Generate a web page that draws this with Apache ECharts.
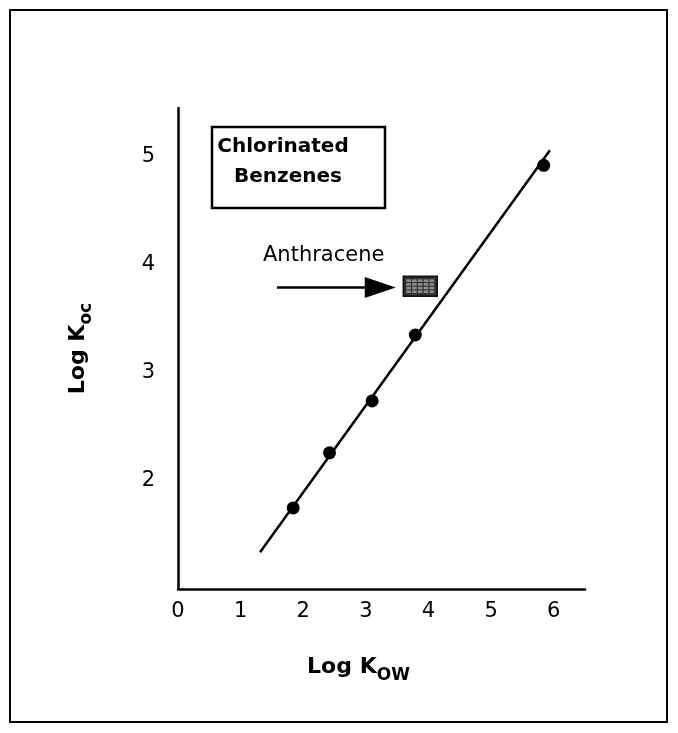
<!DOCTYPE html>
<html>
<head>
<meta charset="utf-8">
<script src="https://cdn.jsdelivr.net/npm/echarts@6/dist/echarts.min.js"></script>
<style>
html,body{margin:0;padding:0;background:#fff;}
#chart{width:678px;height:733px;}
</style>
</head>
<body>
<div id="chart"></div>
<script>
// Data
const xTicks = [0, 1, 2, 3, 4, 5, 6];
const yTicks = [2, 3, 4, 5];
const chlorinatedBenzenes = [[1.84, 1.75], [2.42, 2.26], [3.10, 2.74], [3.79, 3.35], [5.84, 4.92]];
const regressionLine = [[1.31, 1.34], [5.94, 5.06]];
const anthracene = [[3.87, 3.80]];
const arrowShaft = [[1.58, 3.79], [3.40, 3.79]];
const arrowHead = [[3.23, 3.79]];

const FONT = 'DejaVu Sans';
const markerSvg = 'data:image/svg+xml;utf8,' + encodeURIComponent(
  '<svg xmlns="http://www.w3.org/2000/svg" width="36" height="22" viewBox="0 0 36 22">' +
  '<rect x="1" y="1" width="34" height="20" fill="#333" stroke="#111" stroke-width="2"/>' +
  (function(){
    let s='';
    for (let c=0;c<5;c++) for (let r=0;r<4;r++) {
      s += '<rect x="' + (4 + c*5.8) + '" y="' + (4 + r*3.7) + '" width="4.6" height="2.6" fill="#8c8c8c"/>';
    }
    return s;
  })() +
  '</svg>');

const chart = echarts.init(document.getElementById('chart'), null, {renderer: 'canvas'});
chart.setOption({
  animation: false,
  backgroundColor: '#fff',
  grid: {left: 178, top: 108, right: 93, bottom: 144, containLabel: false},
  xAxis: {
    type: 'value', min: 0, max: 6.5, interval: 1,
    axisLine: {lineStyle: {color: '#000', width: 2.5}},
    axisTick: {show: false},
    splitLine: {show: false},
    axisLabel: {
      color: '#000', fontSize: 21, fontFamily: FONT, margin: 12,
      formatter: v => xTicks.includes(v) ? String(v) : ''
    },
    name: '{a|Log K}{b|OW}',
    nameLocation: 'middle',
    nameGap: 61,
    nameTextStyle: {
      padding: [0, 46, 0, 0],
      rich: {
        a: {fontSize: 22, fontWeight: 'bold', fontFamily: FONT, color: '#000', lineHeight: 34, verticalAlign: 'middle'},
        b: {fontSize: 17, fontWeight: 'bold', fontFamily: FONT, color: '#000', lineHeight: 17, verticalAlign: 'bottom'}
      }
    }
  },
  yAxis: {
    type: 'value', min: 1, max: 5.45, interval: 1,
    axisLine: {show: true, lineStyle: {color: '#000', width: 2.5}},
    axisTick: {show: false},
    splitLine: {show: false},
    axisLabel: {
      color: '#000', fontSize: 21, fontFamily: FONT, margin: 23,
      formatter: v => yTicks.includes(v) ? String(v) : ''
    },
    name: '{a|Log K}{b|oc}',
    nameLocation: 'middle',
    nameRotate: 90,
    nameGap: 83,
    nameTextStyle: {
      rich: {
        a: {fontSize: 22, fontWeight: 'bold', fontFamily: FONT, color: '#000', lineHeight: 34, verticalAlign: 'middle'},
        b: {fontSize: 17, fontWeight: 'bold', fontFamily: FONT, color: '#000', lineHeight: 17, verticalAlign: 'bottom'}
      }
    }
  },
  series: [
    {
      type: 'line', data: regressionLine, symbol: 'none',
      lineStyle: {color: '#000', width: 2.5}, z: 2
    },
    {
      type: 'line', data: arrowShaft, symbol: 'none',
      lineStyle: {color: '#000', width: 2.5}, z: 2
    },
    {
      type: 'scatter', data: arrowHead, symbol: 'triangle', symbolRotate: -90,
      symbolSize: [21, 31], itemStyle: {color: '#000', opacity: 1}, z: 3
    },
    {
      type: 'scatter', data: chlorinatedBenzenes, symbol: 'circle', symbolSize: 13,
      itemStyle: {color: '#000', opacity: 1}, z: 4
    },
    {
      type: 'scatter', data: anthracene, symbol: 'image://' + markerSvg, symbolSize: [36, 22],
      itemStyle: {opacity: 1}, z: 4
    }
  ],
  graphic: [
    {type: 'rect', shape: {x: 10, y: 10, width: 657, height: 712}, style: {fill: 'none', stroke: '#000', lineWidth: 2}, z: 0, silent: true},
    {type: 'rect', shape: {x: 212, y: 127, width: 173, height: 81}, style: {fill: '#fff', stroke: '#000', lineWidth: 2.5}, z: 10},
    {type: 'text', x: 283, y: 147, style: {text: 'Chlorinated', font: 'bold 20px "DejaVu Sans"', fill: '#000', textAlign: 'center', textVerticalAlign: 'middle'}, z: 11},
    {type: 'text', x: 288, y: 177, style: {text: 'Benzenes', font: 'bold 20px "DejaVu Sans"', fill: '#000', textAlign: 'center', textVerticalAlign: 'middle'}, z: 11},
    {type: 'text', x: 263, y: 256, style: {text: 'Anthracene', font: '21px "DejaVu Sans"', fill: '#000', textAlign: 'left', textVerticalAlign: 'middle'}, z: 11}
  ]
});
</script>
</body>
</html>
